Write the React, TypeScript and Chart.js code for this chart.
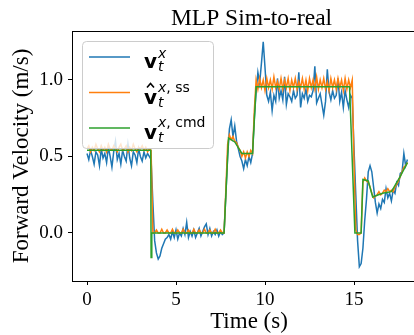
import React, { useEffect, useRef } from "react";
import { Chart, registerables } from "chart.js";

Chart.register(...registerables);

// ---------------- data ----------------
const chartTitle = "MLP Sim-to-real";
const xAxisLabel = "Time (s)";
const yAxisLabel = "Forward Velocity (m/s)";
const xTicks = [0, 5, 10, 15];
const yTicks = [0.0, 0.5, 1.0];
const seriesColors = ["#1f77b4", "#ff7f0e", "#2ca02c"];
const seriesSuperscripts = ["", ", ss", ", cmd"];
const seriesHats = [false, true, false];

const sampleStep = 0.1; // seconds between samples of measured / estimated series

// measured velocity v_t^x, sampled every 0.1 s from 0.0 to 18.0 s
const measuredVelocity = [
  0.52, 0.48, 0.54, 0.50, 0.45, 0.53, 0.51, 0.44, 0.55, 0.49,
  0.52, 0.46, 0.56, 0.50, 0.43, 0.53, 0.60, 0.48, 0.52, 0.45,
  0.54, 0.50, 0.47, 0.58, 0.49, 0.44, 0.53, 0.51, 0.46, 0.55,
  0.50, 0.47, 0.53, 0.49, 0.52, 0.50, 0.48, 0.20, -0.05, -0.13,
  -0.17, -0.15, -0.10, -0.07, -0.04, -0.03, -0.01, -0.04, 0.01, -0.03,
  0.02, -0.04, 0.00, -0.02, 0.03, -0.01, 0.07, -0.03, 0.01, -0.02,
  0.02, -0.03, 0.00, 0.03, -0.02, 0.01, 0.04, 0.06, -0.01, 0.03,
  -0.02, 0.01, -0.01, 0.02, -0.02, 0.01, -0.01, 0.00, 0.25, 0.50,
  0.68, 0.74, 0.63, 0.70, 0.60, 0.55, 0.50, 0.47, 0.42, 0.48,
  0.44, 0.50, 0.46, 0.52, 0.75, 0.92, 1.05, 0.98, 1.11, 1.25,
  1.08, 0.90, 0.86, 0.92, 0.80, 0.90, 0.86, 1.01, 0.88, 0.93,
  0.87, 1.02, 0.84, 0.91, 0.89, 0.86, 0.93, 0.88, 0.90, 1.05,
  0.82, 0.91, 0.88, 0.94, 0.86, 0.90, 0.89, 0.93, 1.09, 0.85,
  0.88, 0.91, 0.84, 0.77, 0.86, 1.07, 0.92, 0.87, 0.93, 0.88,
  0.90, 1.01, 0.86, 0.92, 0.82, 0.93, 0.87, 0.82, 0.90, 0.88,
  0.55, 0.25, -0.05, -0.22, -0.20, -0.10, 0.08, 0.22, 0.40, 0.44,
  0.40, 0.30, 0.20, 0.13, 0.19, 0.16, 0.22, 0.20, 0.29, 0.23,
  0.26, 0.21, 0.28, 0.26, 0.33, 0.31, 0.39, 0.40, 0.52, 0.44, 0.48,
];

// steady-state estimate \hat v_t^{x,ss}, same sampling
const estimatedVelocity = [
  0.55, 0.57, 0.53, 0.56, 0.54, 0.58, 0.55, 0.53, 0.57, 0.54,
  0.56, 0.53, 0.58, 0.55, 0.54, 0.57, 0.55, 0.53, 0.56, 0.58,
  0.54, 0.55, 0.57, 0.53, 0.56, 0.54, 0.58, 0.55, 0.53, 0.56,
  0.55, 0.57, 0.54, 0.56, 0.53, 0.55, 0.54, 0.00, 0.00, 0.02,
  0.00, 0.00, 0.025, 0.00, 0.00, 0.02, 0.00, 0.00, 0.025, 0.00,
  0.00, 0.02, 0.00, 0.00, 0.025, 0.00, 0.00, 0.02, 0.00, 0.00,
  0.025, 0.00, 0.00, 0.02, 0.00, 0.00, 0.025, 0.00, 0.00, 0.02,
  0.00, 0.00, 0.025, 0.00, 0.00, 0.02, 0.00, 0.00, 0.28, 0.58,
  0.64, 0.61, 0.63, 0.60, 0.59, 0.56, 0.54, 0.50, 0.53, 0.49,
  0.53, 0.50, 0.54, 0.52, 0.80, 1.00, 0.94, 1.01, 0.95, 1.00,
  0.93, 1.01, 0.95, 1.00, 0.94, 1.02, 0.95, 0.99, 0.94, 1.01,
  0.94, 1.00, 0.95, 1.01, 0.93, 1.00, 0.95, 1.01, 0.94, 0.99,
  0.95, 1.01, 0.94, 1.00, 0.93, 1.01, 0.95, 1.00, 0.94, 1.02,
  0.94, 1.00, 0.95, 1.01, 0.94, 0.99, 0.93, 1.01, 0.95, 1.00,
  0.94, 1.01, 0.95, 1.00, 0.93, 1.01, 0.94, 1.00, 0.95, 1.00,
  0.45, 0.02, -0.01, -0.01, 0.00, 0.33, 0.36, 0.34, 0.33, 0.30,
  0.26, 0.23, 0.24, 0.25, 0.27, 0.25, 0.26, 0.28, 0.27, 0.29,
  0.27, 0.28, 0.27, 0.30, 0.32, 0.34, 0.37, 0.40, 0.43, 0.44, 0.46,
];

// commanded velocity v_t^{x,cmd} (breakpoints)
const commandTime = [0, 3.58, 3.6, 3.64, 7.7, 7.95, 8.3, 8.7, 9.3, 9.5, 14.75, 15.05, 15.4, 15.5, 15.8, 16.05, 16.6, 17.1, 17.6, 18.0];
const commandVelocity = [0.54, 0.54, -0.16, 0.0, 0.0, 0.62, 0.595, 0.52, 0.52, 0.955, 0.955, 0.0, 0.0, 0.35, 0.34, 0.235, 0.26, 0.27, 0.37, 0.46];

// ---------------- helpers ----------------
const SERIF = '"Liberation Serif", "Times New Roman", serif';
const SANS = '"DejaVu Sans", sans-serif';

const sampled = (vals: number[]) =>
  vals.map((v, i) => ({ x: Math.round(i * sampleStep * 100) / 100, y: v }));

const textPlugin = {
  id: "customText",
  afterDraw(chart: any) {
    const { ctx, chartArea } = chart;
    ctx.save();
    // top spine
    ctx.strokeStyle = "#000";
    ctx.lineWidth = 1;
    ctx.beginPath();
    ctx.moveTo(chartArea.left, chartArea.top + 0.5);
    ctx.lineTo(chartArea.right, chartArea.top + 0.5);
    ctx.stroke();

    ctx.fillStyle = "#000";
    ctx.textAlign = "center";
    ctx.textBaseline = "alphabetic";
    ctx.font = `23.5px ${SERIF}`;
    ctx.fillText(chartTitle, 251.5, 25);

    ctx.font = `23px ${SERIF}`;
    ctx.fillText(xAxisLabel, 249, 328);

    ctx.translate(28, 156);
    ctx.rotate(-Math.PI / 2);
    ctx.fillText(yAxisLabel, 0, 0);
    ctx.restore();
  },
};

const legendPlugin = {
  id: "mathLegend",
  afterDatasetsDraw(chart: any) {
    const ctx = chart.ctx;
    ctx.save();
    ctx.beginPath();
    (ctx as any).roundRect(82.5, 41.5, 131, 107, 4);
    ctx.fillStyle = "rgba(255,255,255,0.8)";
    ctx.fill();
    ctx.strokeStyle = "#cccccc";
    ctx.lineWidth = 1;
    ctx.stroke();

    seriesColors.forEach((color, i) => {
      const ly = 57 + i * 35.5;
      ctx.strokeStyle = color;
      ctx.lineWidth = 1.5;
      ctx.beginPath();
      ctx.moveTo(89, ly);
      ctx.lineTo(130, ly);
      ctx.stroke();

      const base = ly + 11;
      ctx.fillStyle = "#000";
      ctx.textAlign = "left";
      ctx.textBaseline = "alphabetic";
      ctx.font = `bold 20px ${SANS}`;
      ctx.fillText("v", 144, base);
      if (seriesHats[i]) {
        ctx.strokeStyle = "#000";
        ctx.lineWidth = 1.6;
        ctx.beginPath();
        ctx.moveTo(147, base - 16);
        ctx.lineTo(150.5, base - 20);
        ctx.lineTo(154, base - 16);
        ctx.stroke();
      }
      const supBase = i === 0 ? base - 10 : base - 12;
      ctx.font = `oblique 14px ${SANS}`;
      ctx.fillText("x", 158, supBase);
      const xw = ctx.measureText("x").width;
      ctx.fillText("t", 158, base + 3);
      if (seriesSuperscripts[i]) {
        ctx.font = `14px ${SANS}`;
        ctx.fillText(seriesSuperscripts[i], 158 + xw, supBase);
      }
    });
    ctx.restore();
  },
};

export default function App() {
  const canvasRef = useRef<HTMLCanvasElement | null>(null);

  useEffect(() => {
    if (!canvasRef.current) return;
    const chart = new Chart(canvasRef.current, {
      type: "line",
      data: {
        datasets: [
          {
            label: "measured",
            data: sampled(measuredVelocity),
            borderColor: seriesColors[0],
            borderWidth: 1.5,
            pointRadius: 0,
            tension: 0,
            order: 3,
          },
          {
            label: "estimate",
            data: sampled(estimatedVelocity),
            borderColor: seriesColors[1],
            borderWidth: 1.5,
            pointRadius: 0,
            tension: 0,
            order: 2,
          },
          {
            label: "command",
            data: commandTime.map((t, i) => ({ x: t, y: commandVelocity[i] })),
            borderColor: seriesColors[2],
            borderWidth: 1.5,
            pointRadius: 0,
            tension: 0,
            order: 1,
          },
        ],
      },
      options: {
        animation: false,
        responsive: true,
        maintainAspectRatio: false,
        devicePixelRatio: 1,
        layout: { padding: { top: 31, left: 0, right: 0, bottom: 0 } },
        plugins: {
          legend: { display: false },
          title: { display: false },
          tooltip: { enabled: false },
        },
        scales: {
          x: {
            type: "linear",
            min: -0.843,
            max: 18.37,
            afterFit: (s: any) => {
              s.height = 54;
            },
            afterBuildTicks: (s: any) => {
              s.ticks = xTicks.map((v) => ({ value: v }));
            },
            grid: {
              display: true,
              drawOnChartArea: false,
              drawTicks: true,
              tickLength: 4,
              color: "#000",
            },
            border: { display: true, color: "#000", width: 1 },
            ticks: {
              color: "#000",
              padding: 4,
              maxRotation: 0,
              autoSkip: false,
              font: { family: SERIF, size: 19 },
              callback: (v: any) => String(v),
            },
          },
          y: {
            type: "linear",
            min: -0.3137,
            max: 1.32,
            afterFit: (s: any) => {
              s.width = 72;
            },
            afterBuildTicks: (s: any) => {
              s.ticks = yTicks.map((v) => ({ value: v }));
            },
            grid: {
              display: true,
              drawOnChartArea: false,
              drawTicks: true,
              tickLength: 4,
              color: "#000",
            },
            border: { display: true, color: "#000", width: 1 },
            ticks: {
              color: "#000",
              padding: 5,
              autoSkip: false,
              font: { family: SERIF, size: 19 },
              callback: (v: any) => Number(v).toFixed(1),
            },
          },
        },
      },
      plugins: [legendPlugin, textPlugin],
    } as any);
    return () => chart.destroy();
  }, []);

  return (
    <div style={{ position: "fixed", left: 0, top: 0, width: 414, height: 335, background: "#fff", overflow: "hidden" }}>
      <canvas ref={canvasRef} />
    </div>
  );
}
